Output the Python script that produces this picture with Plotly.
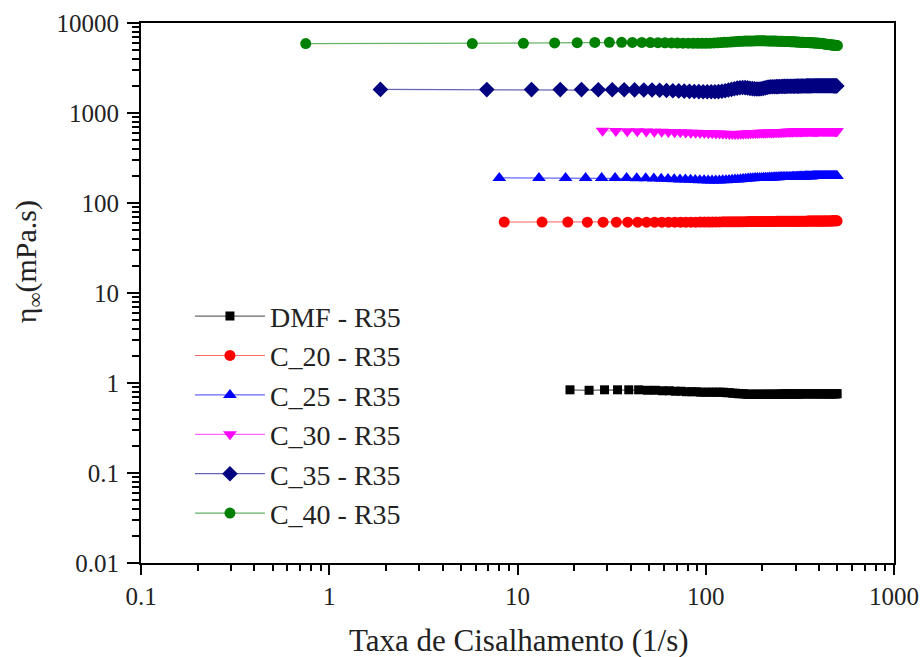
import plotly.graph_objects as go

# ---------------- data ----------------
series_names = ["DMF - R35", "C_20 - R35", "C_25 - R35", "C_30 - R35", "C_35 - R35", "C_40 - R35"]

x_dmf = [19, 24, 29, 34, 39, 44, 49, 54, 59, 64,
         69, 74, 79, 84, 89, 94, 99, 104, 109, 114,
         119, 124, 129, 134, 139, 144, 149, 154, 159, 164,
         169, 174, 179, 184, 189, 194, 199, 204, 209, 214,
         219, 224, 229, 234, 239, 244, 249, 254, 259, 264,
         269, 274, 279, 284, 289, 294, 299, 304, 309, 314,
         319, 324, 329, 334, 339, 344, 349, 354, 359, 364,
         369, 374, 379, 384, 389, 394, 399, 404, 409, 414,
         419, 424, 429, 434, 439, 444, 449, 454, 459, 464,
         469, 474, 479, 484, 489, 494, 499]
y_dmf = [0.84, 0.83, 0.84, 0.84, 0.84, 0.84, 0.83, 0.83, 0.82, 0.82,
         0.81, 0.81, 0.80, 0.80, 0.80, 0.79, 0.79, 0.79, 0.79, 0.79,
         0.79, 0.79, 0.78, 0.78, 0.77, 0.77, 0.76, 0.76, 0.76, 0.75,
         0.75, 0.75, 0.75, 0.75, 0.75, 0.75, 0.75, 0.75, 0.75, 0.75,
         0.75, 0.75, 0.75, 0.75, 0.75, 0.75, 0.75, 0.755, 0.755, 0.755,
         0.755, 0.755, 0.755, 0.755, 0.755, 0.755, 0.755, 0.755, 0.755, 0.755,
         0.76, 0.76, 0.76, 0.76, 0.76, 0.76, 0.76, 0.76, 0.76, 0.76,
         0.76, 0.76, 0.76, 0.76, 0.76, 0.76, 0.76, 0.76, 0.76, 0.76,
         0.76, 0.76, 0.76, 0.76, 0.76, 0.76, 0.76, 0.76, 0.76, 0.76,
         0.76, 0.76, 0.76, 0.76, 0.76, 0.76, 0.76]

x_c20 = [8.5, 13.5, 18.5, 23.5, 28.5, 33.5, 38.5, 43.5, 48.5, 53.5,
         58.5, 63.5, 68.5, 73.5, 78.5, 83.5, 88.5, 93.5, 98.5, 103.5,
         108.5, 113.5, 118.5, 123.5, 128.5, 133.5, 138.5, 143.5, 148.5, 153.5,
         158.5, 163.5, 168.5, 173.5, 178.5, 183.5, 188.5, 193.5, 198.5, 203.5,
         208.5, 213.5, 218.5, 223.5, 228.5, 233.5, 238.5, 243.5, 248.5, 253.5,
         258.5, 263.5, 268.5, 273.5, 278.5, 283.5, 288.5, 293.5, 298.5, 303.5,
         308.5, 313.5, 318.5, 323.5, 328.5, 333.5, 338.5, 343.5, 348.5, 353.5,
         358.5, 363.5, 368.5, 373.5, 378.5, 383.5, 388.5, 393.5, 398.5, 403.5,
         408.5, 413.5, 418.5, 423.5, 428.5, 433.5, 438.5, 443.5, 448.5, 453.5,
         458.5, 463.5, 468.5, 473.5, 478.5, 483.5, 488.5, 493.5, 498.5]
y_c20 = [61.5, 61.4, 61.4, 61.3, 61.3, 61.3, 61.2, 61.2, 61.2, 61.2,
         61.2, 61.2, 61.2, 61.2, 61.3, 61.3, 61.3, 61.4, 61.4, 61.5,
         61.5, 61.6, 61.6, 61.7, 61.7, 61.8, 61.8, 61.9, 61.9, 62.0,
         62.0, 62.0, 62.1, 62.1, 62.1, 62.2, 62.2, 62.2, 62.3, 62.3,
         62.3, 62.3, 62.4, 62.4, 62.4, 62.4, 62.5, 62.5, 62.5, 62.5,
         62.5, 62.6, 62.6, 62.6, 62.6, 62.6, 62.7, 62.7, 62.7, 62.7,
         62.7, 62.7, 62.8, 62.8, 62.8, 62.8, 62.8, 62.8, 62.9, 62.9,
         62.9, 62.9, 62.9, 62.9, 63.0, 63.0, 63.0, 63.0, 63.0, 63.0,
         63.0, 63.1, 63.1, 63.1, 63.1, 63.1, 63.1, 63.2, 63.2, 63.2,
         63.2, 63.2, 63.2, 63.3, 63.3, 63.3, 63.3, 63.3, 63.3]

x_c25 = [8, 13, 18, 23, 28, 33, 38, 43, 48, 53,
         58, 63, 68, 73, 78, 83, 88, 93, 98, 103,
         108, 113, 118, 123, 128, 133, 138, 143, 148, 153,
         158, 163, 168, 173, 178, 183, 188, 193, 198, 203,
         208, 213, 218, 223, 228, 233, 238, 243, 248, 253,
         258, 263, 268, 273, 278, 283, 288, 293, 298, 303,
         308, 313, 318, 323, 328, 333, 338, 343, 348, 353,
         358, 363, 368, 373, 378, 383, 388, 393, 398, 403,
         408, 413, 418, 423, 428, 433, 438, 443, 448, 453,
         458, 463, 468, 473, 478, 483, 488, 493, 498]
y_c25 = [190, 190, 190, 190, 189, 189, 189, 188, 188, 187,
         186, 185, 184, 183, 182, 181, 180, 179, 179, 178,
         178, 178, 178, 179, 179, 180, 181, 182, 183, 184,
         185, 186, 187, 188, 188, 189, 189, 190, 190, 191,
         191, 191, 192, 192, 192, 193, 193, 193, 194, 194,
         194, 194, 195, 195, 195, 195, 196, 196, 196, 196,
         196, 197, 197, 197, 197, 197, 198, 198, 198, 198,
         198, 198, 198, 199, 199, 199, 199, 199, 199, 199,
         199, 199, 199, 199, 199, 199, 199, 199, 199, 199,
         199, 199, 199, 199, 199, 199, 199, 199, 199]

x_c30 = [28.3, 33.3, 38.3, 43.3, 48.3, 53.3, 58.3, 63.3, 68.3, 73.3,
         78.3, 83.3, 88.3, 93.3, 98.3, 103.3, 108.3, 113.3, 118.3, 123.3,
         128.3, 133.3, 138.3, 143.3, 148.3, 153.3, 158.3, 163.3, 168.3, 173.3,
         178.3, 183.3, 188.3, 193.3, 198.3, 203.3, 208.3, 213.3, 218.3, 223.3,
         228.3, 233.3, 238.3, 243.3, 248.3, 253.3, 258.3, 263.3, 268.3, 273.3,
         278.3, 283.3, 288.3, 293.3, 298.3, 303.3, 308.3, 313.3, 318.3, 323.3,
         328.3, 333.3, 338.3, 343.3, 348.3, 353.3, 358.3, 363.3, 368.3, 373.3,
         378.3, 383.3, 388.3, 393.3, 398.3, 403.3, 408.3, 413.3, 418.3, 423.3,
         428.3, 433.3, 438.3, 443.3, 448.3, 453.3, 458.3, 463.3, 468.3, 473.3,
         478.3, 483.3, 488.3, 493.3, 498.3]
y_c30 = [635, 630, 628, 625, 622,
         620, 618, 615, 612, 610, 607, 605, 603, 600, 598,
         596, 594, 592, 590, 588, 587, 586, 585, 585, 586, 587, 588, 590, 592, 594, 596,
         598, 600, 602, 603, 604, 605, 606, 607, 608, 609,
         610, 611, 612, 613, 614, 615, 616, 617, 618, 619,
         620, 620, 621, 621, 622, 622, 623, 623, 624, 624,
         625, 625, 625, 626, 626, 626, 627, 627, 627, 628,
         628, 628, 628, 629, 629, 629, 630, 630, 630, 630,
         630, 630, 630, 630, 630, 630, 630, 630, 629, 629,
         629, 628, 628, 628]

x_c35 = [1.87, 6.87, 11.87, 16.87, 21.87, 26.87, 31.87, 36.87, 41.87, 46.87,
         51.87, 56.87, 61.87, 66.87, 71.87, 76.87, 81.87, 86.87, 91.87, 96.87,
         101.87, 106.87, 111.87, 116.87, 121.87, 126.87, 131.87, 136.87, 141.87, 146.87,
         151.87, 156.87, 161.87, 166.87, 171.87, 176.87, 181.87, 186.87, 191.87, 196.87,
         201.87, 206.87, 211.87, 216.87, 221.87, 226.87, 231.87, 236.87, 241.87, 246.87,
         251.87, 256.87, 261.87, 266.87, 271.87, 276.87, 281.87, 286.87, 291.87, 296.87,
         301.87, 306.87, 311.87, 316.87, 321.87, 326.87, 331.87, 336.87, 341.87, 346.87,
         351.87, 356.87, 361.87, 366.87, 371.87, 376.87, 381.87, 386.87, 391.87, 396.87,
         401.87, 406.87, 411.87, 416.87, 421.87, 426.87, 431.87, 436.87, 441.87, 446.87,
         451.87, 456.87, 461.87, 466.87, 471.87, 476.87, 481.87, 486.87, 491.87, 496.87]
y_c35 = [1830, 1820, 1820, 1820, 1820, 1815, 1810, 1810, 1805, 1800,
         1800, 1790, 1780, 1770, 1760, 1750, 1740, 1735, 1730, 1725,
         1720, 1720, 1725, 1730, 1745, 1770, 1800, 1830, 1860, 1890,
         1910, 1920, 1915, 1900, 1880, 1865, 1855, 1850, 1850, 1860,
         1880, 1900, 1925, 1945, 1955, 1960, 1960, 1965, 1965, 1970,
         1970, 1975, 1975, 1975, 1980, 1980, 1980, 1985, 1985, 1985,
         1990, 1990, 1990, 1990, 1995, 1995, 1995, 1995, 2000, 2000,
         2000, 2000, 2000, 2000, 2005, 2005, 2005, 2005, 2005, 2010,
         2010, 2010, 2010, 2010, 2010, 2010, 2010, 2010, 2010, 2010,
         2010, 2005, 2005, 2005, 2005, 2000, 2000, 2000, 2000, 2000]

x_c40 = [0.75, 5.75, 10.75, 15.75, 20.75, 25.75, 30.75, 35.75, 40.75, 45.75,
         50.75, 55.75, 60.75, 65.75, 70.75, 75.75, 80.75, 85.75, 90.75, 95.75,
         100.75, 105.75, 110.75, 115.75, 120.75, 125.75, 130.75, 135.75, 140.75, 145.75,
         150.75, 155.75, 160.75, 165.75, 170.75, 175.75, 180.75, 185.75, 190.75, 195.75,
         200.75, 205.75, 210.75, 215.75, 220.75, 225.75, 230.75, 235.75, 240.75, 245.75,
         250.75, 255.75, 260.75, 265.75, 270.75, 275.75, 280.75, 285.75, 290.75, 295.75,
         300.75, 305.75, 310.75, 315.75, 320.75, 325.75, 330.75, 335.75, 340.75, 345.75,
         350.75, 355.75, 360.75, 365.75, 370.75, 375.75, 380.75, 385.75, 390.75, 395.75,
         400.75, 405.75, 410.75, 415.75, 420.75, 425.75, 430.75, 435.75, 440.75, 445.75,
         450.75, 455.75, 460.75, 465.75, 470.75, 475.75, 480.75, 485.75, 490.75, 495.75,
         500.75]
y_c40 = [5900, 5900, 5950, 6000, 6050, 6080, 6100, 6100, 6090, 6080,
         6060, 6040, 6020, 6000, 5990, 5970, 5960, 5950, 5940, 5940,
         5950, 5970, 6000, 6030, 6060, 6100, 6130, 6160, 6190, 6220,
         6250, 6270, 6290, 6300, 6310, 6320, 6320, 6330, 6330, 6330,
         6330, 6330, 6320, 6320, 6310, 6300, 6300, 6290, 6280, 6270,
         6260, 6250, 6240, 6230, 6220, 6210, 6200, 6190, 6180, 6170,
         6160, 6150, 6140, 6130, 6120, 6110, 6100, 6090, 6080, 6070,
         6060, 6050, 6040, 6030, 6020, 6010, 6000, 5990, 5980, 5970,
         5960, 5940, 5920, 5900, 5880, 5860, 5840, 5820, 5800, 5780,
         5760, 5740, 5720, 5700, 5690, 5680, 5670, 5660, 5650, 5640,
         5620]

x_tick_vals = [0.1, 1, 10, 100, 1000]
x_tick_text = ["0.1", "1", "10", "100", "1000"]
y_tick_vals = [0.01, 0.1, 1, 10, 100, 1000, 10000]
y_tick_text = ["0.01", "0.1", "1", "10", "100", "1000", "10000"]
x_title = "Taxa de Cisalhamento (1/s)"
y_title = "η<sub>∞</sub>(mPa.s)"

# ---------------- styles ----------------
styles = [
    dict(x=x_dmf, y=y_dmf, marker="square", size=9, color="#000000", line="rgba(0,0,0,0.6)"),
    dict(x=x_c20, y=y_c20, marker="circle", size=11, color="#ff0000", line="rgba(255,0,0,0.6)"),
    dict(x=x_c25, y=y_c25, marker="triangle-up", size=12, color="#0000ff", line="rgba(0,0,255,0.6)"),
    dict(x=x_c30, y=y_c30, marker="triangle-down", size=12, color="#ff00ff", line="rgba(255,0,255,0.6)"),
    dict(x=x_c35, y=y_c35, marker="diamond", size=12, color="#000080", line="rgba(0,0,128,0.6)"),
    dict(x=x_c40, y=y_c40, marker="circle", size=11, color="#008000", line="rgba(0,128,0,0.6)"),
]

FONT = "Liberation Serif"
TXT = "#222222"

fig = go.Figure()
for name, s in zip(series_names, styles):
    fig.add_trace(go.Scatter(
        x=s["x"], y=s["y"], name=name, mode="lines+markers",
        line=dict(color=s["line"], width=1.2),
        marker=dict(symbol=s["marker"], size=s["size"], color=s["color"],
                    line=dict(width=0)),
    ))

minor_vals = []
for e in range(-3, 4):
    for m in range(2, 10):
        minor_vals.append(m * 10 ** e)

common = dict(
    tickfont=dict(family=FONT, size=25, color=TXT),
    showline=True, linecolor="black", linewidth=2, mirror=True,
    showgrid=False, zeroline=False, automargin=False,
    ticks="outside", tickwidth=2, tickcolor="black",
)
fig.update_xaxes(
    type="log", range=[-1, 3], tickmode="array",
    tickvals=x_tick_vals, ticktext=x_tick_text, ticklen=10,
    minor=dict(ticks="outside", ticklen=6, tickwidth=1.5, tickcolor="black",
               tickmode="array", tickvals=[v for v in minor_vals if 0.1 < v < 1000],
               showgrid=False),
    **common,
)
fig.update_yaxes(
    type="log", range=[-2, 4], tickmode="array",
    tickvals=y_tick_vals, ticktext=y_tick_text, ticklen=12,
    ticklabelstandoff=3,
    minor=dict(ticks="outside", ticklen=7, tickwidth=1.5, tickcolor="black",
               tickmode="array", tickvals=[v for v in minor_vals if 0.01 < v < 10000],
               showgrid=False),
    **common,
)

fig.add_annotation(text=x_title, xref="paper", yref="paper", x=0.502, y=-0.1426,
                   xanchor="center", yanchor="middle", showarrow=False,
                   font=dict(family=FONT, size=31, color=TXT))
fig.add_annotation(text=y_title, xref="paper", yref="paper", x=-0.15, y=0.557,
                   xanchor="center", yanchor="middle", showarrow=False, textangle=-90,
                   font=dict(family=FONT, size=30, color=TXT))

fig.update_layout(
    width=921, height=657,
    margin=dict(l=141, r=27, t=23, b=94),
    plot_bgcolor="white", paper_bgcolor="white",
    font=dict(family=FONT, size=25, color=TXT),
    legend=dict(x=0.065, y=0.503, xanchor="left", yanchor="top",
                bgcolor="rgba(0,0,0,0)", borderwidth=0,
                font=dict(family=FONT, size=28, color=TXT),
                itemwidth=70, tracegroupgap=0),
    showlegend=True,
)

# remove the default 8px page margin so the figure fills the 921x657 window
fig.write_html(
    "out.html",
    config={"displayModeBar": False},
    post_script="document.body.style.margin='0';document.body.style.overflow='hidden';",
)
